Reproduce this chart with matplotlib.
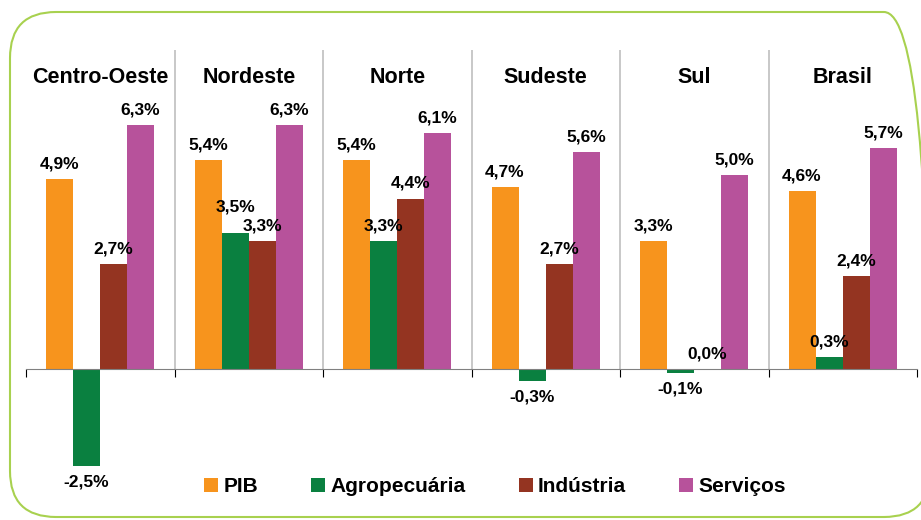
import numpy as np
import matplotlib.pyplot as plt
from matplotlib.patches import FancyBboxPatch

# regions and growth rates (%)
regioes = ["Centro-Oeste", "Nordeste", "Norte", "Sudeste", "Sul", "Brasil"]
pib = [4.9, 5.4, 5.4, 4.7, 3.3, 4.6]
agro = [-2.5, 3.5, 3.3, -0.3, -0.1, 0.3]
industria = [2.7, 3.3, 4.4, 2.7, 0.0, 2.4]
servicos = [6.3, 6.3, 6.1, 5.6, 5.0, 5.7]

series = [("PIB", pib, "#F7941D"),
          ("Agropecuária", agro, "#0A8040"),
          ("Indústria", industria, "#943421"),
          ("Serviços", servicos, "#B7529B")]

plt.rcParams["font.family"] = ["Liberation Sans", "DejaVu Sans"]
plt.rcParams["font.weight"] = "bold"

fig = plt.figure(figsize=(9.21, 5.2), dpi=100)
W, H = 921, 520

# green rounded frame
frame = FancyBboxPatch((10 / W, 1 - 517 / H), 920 / W, 505 / H,
                       boxstyle="round,pad=0,rounding_size=0.05",
                       transform=fig.transFigure, facecolor="none",
                       edgecolor="#A8D14F", linewidth=1.5, mutation_aspect=W / H)
fig.patches.append(frame)

ax = fig.add_axes([26 / W, 1 - 480 / H, (917 - 26) / W, 430 / H])
ax.set_xlim(0, 6)
ax.set_ylim(-2.87, 8.24)
ax.patch.set_alpha(0)

x = np.arange(len(regioes))
bw = 0.182
start = 0.135
for i, (nome, vals, cor) in enumerate(series):
    xs = x + start + bw * i + bw / 2
    ax.bar(xs, vals, width=bw, color=cor, label=nome)
    for j, (xi, v) in enumerate(zip(xs, vals)):
        lab = f"{v:.1f}%".replace(".", ",")
        if v >= 0:
            dy = 0.2
            # Nordeste agro label sits higher so it clears the industry label
            if i == 1 and j == 1:
                dy = 0.5
            ax.text(xi, v + dy, lab, ha="center", va="bottom", fontsize=12.5, fontweight="bold")
        else:
            ax.text(xi, v - 0.22, lab, ha="center", va="top", fontsize=12.5, fontweight="bold")

# separators between regions
for b in range(1, 6):
    ax.plot([b, b], [0, 8.24], color="#BFBFBF", lw=1.2, zorder=0)

# region titles
for i, r in enumerate(regioes):
    ax.text(i + 0.5, 7.52, r, ha="center", va="center", fontsize=15.5, fontweight="bold")

for s in ["top", "right", "left"]:
    ax.spines[s].set_visible(False)
ax.spines["bottom"].set_position(("data", 0))
ax.spines["bottom"].set_color("#808080")
ax.set_xticks(range(7))
ax.set_xticklabels([])
ax.tick_params(axis="x", direction="out", length=6, color="black")
ax.set_yticks([])

handles, labels = ax.get_legend_handles_labels()
fig.legend(handles, labels, loc="center", bbox_to_anchor=(495 / W, 1 - 487 / H), ncol=4,
           frameon=False, handlelength=0.68, handleheight=0.68,
           handletextpad=0.25, columnspacing=2.55, prop={"weight": "bold", "size": 15})

fig.savefig("out.png", dpi=100)
